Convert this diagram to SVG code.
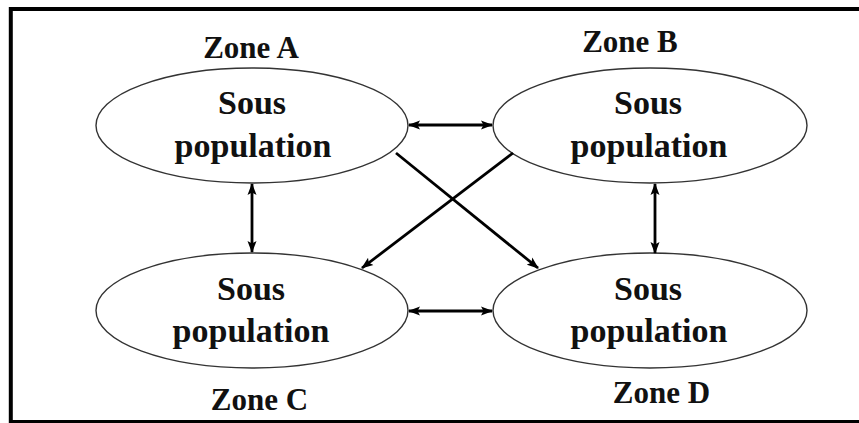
<svg xmlns="http://www.w3.org/2000/svg" width="859" height="423" viewBox="0 0 859 423">
<style>
.node ellipse{fill:#fff;stroke:#333;stroke-width:1.4}
text{font-family:'Liberation Serif','DejaVu Serif',serif;font-weight:bold;fill:#111;text-anchor:middle}
.big{font-size:34px}
.zone{font-size:31px}
.conn line{stroke:#000;stroke-width:2.8;fill:none}
</style>
<defs>
<marker id="ah" viewBox="0 0 12 10" refX="11" refY="5" markerUnits="userSpaceOnUse" markerWidth="12" markerHeight="10" orient="auto-start-reverse">
<path d="M0,0.5 L12,5 L0,9.5 L2.5,5 Z" fill="#000"/>
</marker>
</defs>
<rect width="859" height="423" fill="#fff"/>
<rect x="10.8" y="9" width="870" height="413" fill="none" stroke="#000" stroke-width="4"/>
<g id="nodeA" class="node">
<ellipse cx="252" cy="125.5" rx="156" ry="57.5"/>
<text class="big" x="252" y="114" font-family="Liberation Serif">Sous</text>
<text class="big" x="253" y="157" font-family="Liberation Serif">population</text>
<text class="zone" x="251" y="58" font-family="Liberation Serif">Zone A</text>
</g>
<g id="nodeB" class="node">
<ellipse cx="650" cy="125.5" rx="157" ry="57.5"/>
<text class="big" x="648" y="114" font-family="Liberation Serif">Sous</text>
<text class="big" x="649" y="157" font-family="Liberation Serif">population</text>
<text class="zone" x="630" y="52" font-family="Liberation Serif">Zone B</text>
</g>
<g id="nodeC" class="node">
<ellipse cx="252" cy="310.5" rx="156" ry="57.5"/>
<text class="big" x="251" y="300" font-family="Liberation Serif">Sous</text>
<text class="big" x="251" y="342" font-family="Liberation Serif">population</text>
<text class="zone" x="259.5" y="410" font-family="Liberation Serif">Zone C</text>
</g>
<g id="nodeD" class="node">
<ellipse cx="650" cy="310.5" rx="157" ry="57.5"/>
<text class="big" x="648" y="300" font-family="Liberation Serif">Sous</text>
<text class="big" x="649" y="342" font-family="Liberation Serif">population</text>
<text class="zone" x="661.5" y="403" font-family="Liberation Serif">Zone D</text>
</g>
<g id="connectors" class="conn">
<line x1="409" y1="125" x2="492" y2="125" marker-start="url(#ah)" marker-end="url(#ah)"/>
<line x1="409" y1="311" x2="492" y2="311" marker-start="url(#ah)" marker-end="url(#ah)"/>
<line x1="252" y1="184" x2="252" y2="252" marker-start="url(#ah)" marker-end="url(#ah)"/>
<line x1="655" y1="184" x2="655" y2="253" marker-start="url(#ah)" marker-end="url(#ah)"/>
<line x1="396" y1="153" x2="538" y2="268" marker-end="url(#ah)"/>
<line x1="513" y1="153" x2="362" y2="268" marker-end="url(#ah)"/>
</g>
</svg>
